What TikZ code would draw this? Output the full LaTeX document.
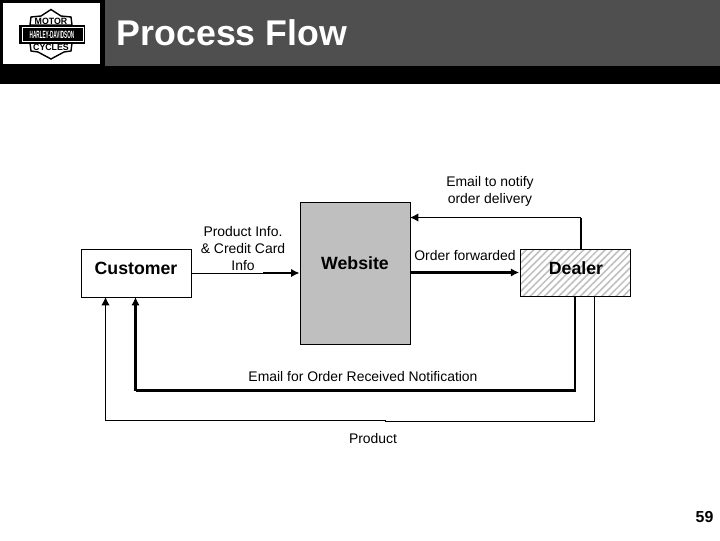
\documentclass[tikz,border=0pt]{standalone}
\usepackage{fontspec}
\setmainfont{Liberation Sans}
\usetikzlibrary{patterns.meta}
\usetikzlibrary{arrows.meta}
\definecolor{bannergray}{gray}{0.31}
\definecolor{boxgray}{gray}{0.75}
\tikzset{
  thinline/.style={line width=0.7pt},
  thickline/.style={line width=1.5pt},
  flowtip/.style={-{Latex[length=6pt,width=6pt]}},
  flowbox/.style={draw,line width=0.65pt,minimum width=110*0.025cm,inner sep=0pt},
  boxtext/.style={font=\bfseries\fontsize{12.6}{15}\selectfont},
  flowtext/.style={font=\fontsize{9.9}{12}\selectfont,align=center,inner sep=0pt},
  logotext/.style={inner sep=0pt,font=\bfseries\fontsize{5}{6}\selectfont},
}
\begin{document}
\begin{tikzpicture}[x=0.025cm,y=-0.025cm]
\useasboundingbox (0,0) rectangle (720,540);
\fill[white] (0,0) rectangle (720,540);
\fill[black] (0,0) rectangle (720,83.5);
\fill[bannergray] (105,0) rectangle (720,66);
\fill[white] (3,3) rectangle (100,64);
\node[text=white,font=\bfseries\fontsize{25.4}{30}\selectfont,inner sep=0pt] (title) at (232,33) {Process Flow};
% logo
\draw[black,line width=1pt,fill=white] (30,25) -- (31,17) -- (41,16) -- (51,9.5) -- (61,16) -- (71,17) -- (72,25) -- cycle;
\draw[black,line width=1pt,fill=white] (30,43) -- (31,51) -- (38,52) -- (51,59) -- (64,52) -- (71,51) -- (72,43) -- cycle;
\fill[black] (19,25) rectangle (85,43.5);
\draw[white,line width=0.5pt] (22,27.5) rectangle (83,41);
\node[logotext] (logomotor) at (51,21) {\scalebox{1.25}[1.3]{MOTOR}};
\node[logotext,text=white] (logoharley) at (52,34.5) {\scalebox{0.66}[1.5]{HARLEY-DAVIDSON}};
\node[logotext] (logocycles) at (51,47.5) {\scalebox{1.25}[1.3]{CYCLES}};
% boxes
\node[flowbox,fill=white,minimum height=48*0.025cm] (customer) at (136,273) {};
\node[boxtext] (customertext) at (136,268) {Customer};
\node[flowbox,fill=boxgray,minimum height=142*0.025cm] (website) at (355,273) {};
\node[boxtext] (websitetext) at (355,263) {Website};
\node[flowbox,minimum height=47*0.025cm,pattern={Lines[angle=45,distance=3.6pt,line width=1.1pt]},pattern color=boxgray] (dealer) at (575,272.5) {};
\node[boxtext] (dealertext) at (576,268) {Dealer};
% labels
\node[flowtext] (productinfo) at (243,248.5) {Product Info.\\[0pt]\& Credit Card\\[0pt]Info};
\node[flowtext] (notify) at (490,191.5) {Email to notify\\[0pt]order delivery};
\node[flowtext] (forwarded) at (465,255.5) {Order forwarded};
\node[flowtext] (received) at (363,376.7) {Email for Order Received Notification};
\node[flowtext] (product) at (373,438.7) {Product};
\node[inner sep=0pt,font=\bfseries\fontsize{11.3}{13}\selectfont] (page) at (704.5,517) {59};
% connectors
\coordinate (infomid) at (263,273);
\coordinate (notifyturn) at (581,217.5);
\coordinate (notifyend) at (410,217.5);
\draw[thinline] (customer.east) -- (infomid);
\draw[thickline,flowtip] (infomid) -- (website.west);
\draw[thickline,flowtip] (website.east |- dealer) -- (dealer.west);
\draw[thickline] (581,249) -- (notifyturn);
\draw[thinline,flowtip] (notifyturn) -- (notifyend);
\coordinate (mailright) at (575,390.5);
\coordinate (mailleft) at (135.5,390.5);
\draw[thickline] (575,296) -- (mailright) -- (mailleft);
\draw[thickline,flowtip] (mailleft) -- (135.5,297);
\coordinate (prodright) at (594.4,421.5);
\coordinate (prodstep) at (385,421.5);
\coordinate (prodleft) at (105.5,420.5);
\draw[thinline] (594.4,296) -- (prodright) -- (prodstep) -- (prodstep |- prodleft) -- (prodleft);
\draw[thinline,flowtip] (prodleft) -- (105.5,297);
\end{tikzpicture}
\end{document}
